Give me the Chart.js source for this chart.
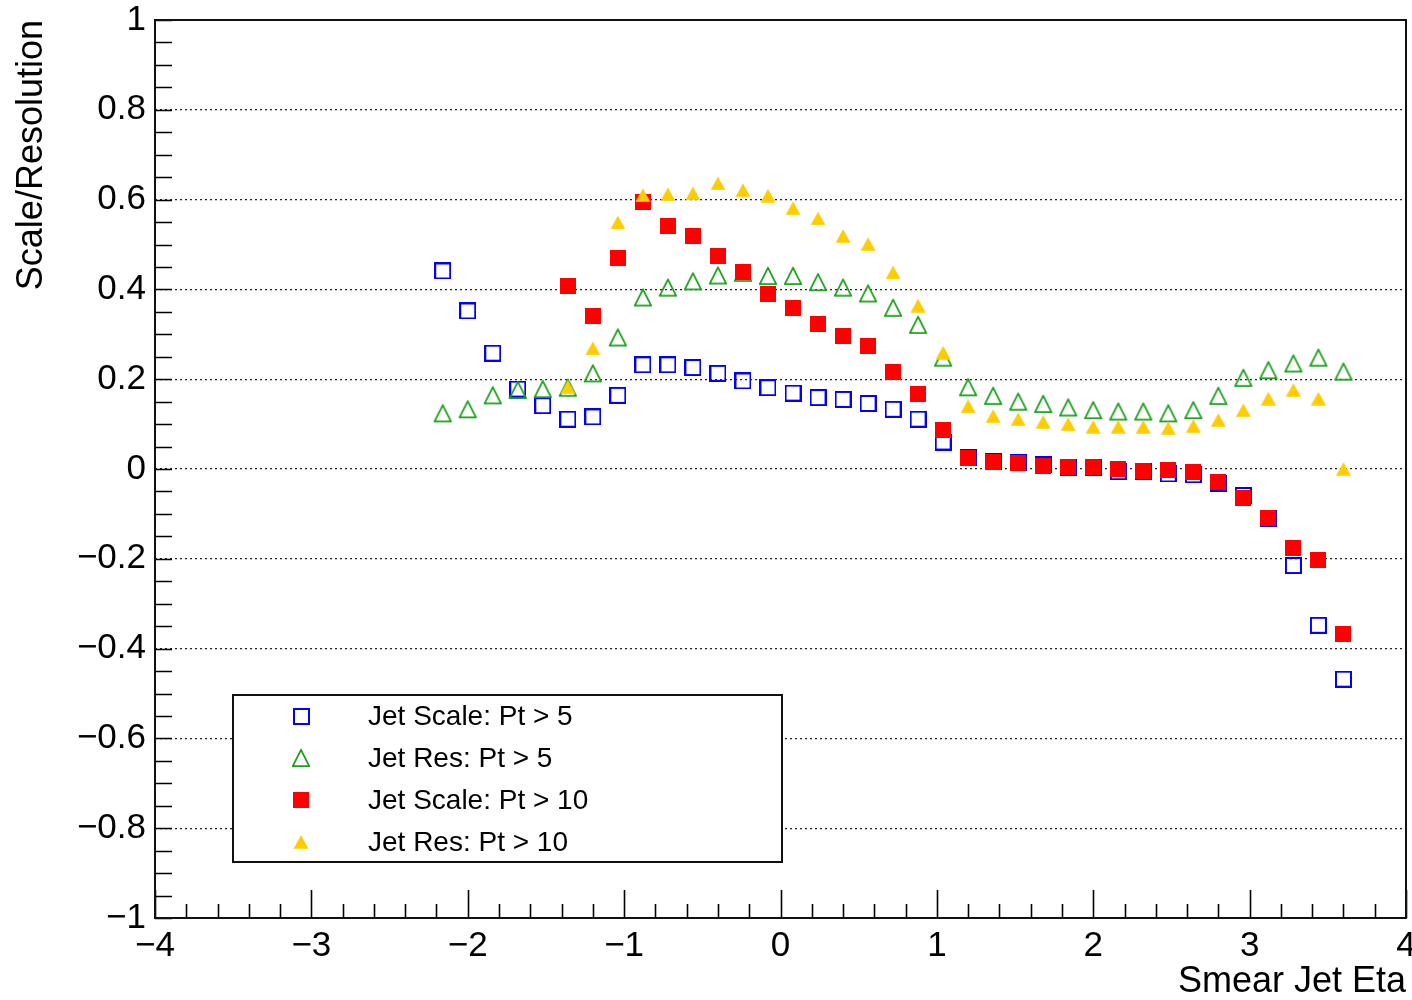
<!DOCTYPE html>
<html>
<head>
<meta charset="utf-8">
<script src="https://cdn.jsdelivr.net/npm/chart.js@4.4.1/dist/chart.umd.min.js"></script>
<style>
html,body{margin:0;padding:0;background:#ffffff;}
#wrap{width:1412px;height:1000px;position:relative;}
</style>
</head>
<body>
<div id="wrap"><canvas id="c" width="1412" height="1000"></canvas></div>
<script>
// ---------------- data ----------------
const etaBins = [-2.16,-2.00,-1.84,-1.68,-1.52,-1.36,-1.20,-1.04,-0.88,-0.72,-0.56,-0.40,-0.24,-0.08,0.08,0.24,0.40,0.56,0.72,0.88,1.04,1.20,1.36,1.52,1.68,1.84,2.00,2.16,2.32,2.48,2.64,2.80,2.96,3.12,3.28,3.44,3.60];

const jetScalePt5 = [0.441,0.352,0.258,0.178,0.141,0.111,0.116,0.164,0.232,0.232,0.226,0.213,0.196,0.181,0.169,0.159,0.155,0.146,0.133,0.111,0.060,0.025,0.016,0.015,0.009,0.004,0.004,-0.006,-0.006,-0.011,-0.013,-0.032,-0.059,-0.111,-0.215,-0.348,-0.468];

const jetResPt5 = [0.124,0.133,0.164,0.176,0.178,0.181,0.213,0.293,0.382,0.404,0.418,0.431,0.437,0.430,0.430,0.416,0.404,0.391,0.359,0.321,0.248,0.182,0.163,0.150,0.145,0.137,0.131,0.128,0.128,0.124,0.131,0.163,0.203,0.220,0.235,0.248,0.217];

const jetScalePt10 = [null,null,null,null,null,0.408,0.341,0.469,0.594,0.541,0.519,0.474,0.438,0.389,0.358,0.322,0.296,0.274,0.215,0.166,0.087,0.025,0.016,0.013,0.007,0.004,0.005,0.001,-0.004,-0.002,-0.007,-0.030,-0.064,-0.110,-0.177,-0.203,-0.367];

const jetResPt10 = [null,null,null,null,null,0.183,0.269,0.549,0.610,0.612,0.614,0.636,0.621,0.609,0.581,0.558,0.519,0.501,0.438,0.364,0.259,0.140,0.118,0.111,0.105,0.100,0.094,0.094,0.094,0.091,0.096,0.109,0.131,0.157,0.176,0.157,0.000];

const seriesLabels = ['Jet Scale: Pt > 5','Jet Res: Pt > 5','Jet Scale: Pt > 10','Jet Res: Pt > 10'];

const xTickValues = [-4,-3,-2,-1,0,1,2,3,4];
const xTickLabels = ['\u22124','\u22123','\u22122','\u22121','0','1','2','3','4'];
const yTickValues = [-1,-0.8,-0.6,-0.4,-0.2,0,0.2,0.4,0.6,0.8,1];
const yTickLabels = ['\u22121','\u22120.8','\u22120.6','\u22120.4','\u22120.2','0','0.2','0.4','0.6','0.8','1'];

const xAxisTitle = 'Smear Jet Eta';
const yAxisTitle = 'Scale/Resolution';

// ---------------- styles ----------------
const FONT = '"Liberation Sans", Arial, Helvetica, sans-serif';
const C_BLUE = '#0000ff', C_GREEN = '#1c9f1c', C_RED = '#ff0000', C_YELLOW = '#ffcc00';

function makeMarker(w, h, draw) {
  const cv = document.createElement('canvas');
  cv.width = w; cv.height = h;
  const g = cv.getContext('2d');
  draw(g, w, h);
  return cv;
}
const mkBlueSq = makeMarker(17, 17, (g) => {
  g.strokeStyle = C_BLUE; g.lineWidth = 2; g.strokeRect(1, 1, 15, 15);
});
const mkRedSq = makeMarker(16, 16, (g) => {
  g.fillStyle = C_RED; g.fillRect(0, 0, 16, 16);
});
const mkGreenTri = makeMarker(20, 20, (g) => {
  g.strokeStyle = C_GREEN; g.lineWidth = 1.8; g.lineJoin = 'round';
  g.beginPath(); g.moveTo(10, 1.8); g.lineTo(18.2, 18.2); g.lineTo(1.8, 18.2); g.closePath(); g.stroke();
});
const mkYellowTri = makeMarker(16, 14, (g) => {
  g.fillStyle = C_YELLOW;
  g.beginPath(); g.moveTo(8, 0.3); g.lineTo(15.5, 13.7); g.lineTo(0.5, 13.7); g.closePath(); g.fill();
});

function toPoints(ys) {
  const out = [];
  for (let i = 0; i < etaBins.length; i++) {
    if (ys[i] !== null && ys[i] !== undefined) out.push({x: etaBins[i], y: ys[i]});
  }
  return out;
}

// ---------------- plugins ----------------
const rootAxes = {
  id: 'rootAxes',
  beforeDatasetsDraw(chart) {
    const {ctx, chartArea: a, scales: {x, y}} = chart;
    ctx.save();
    ctx.strokeStyle = '#000';
    ctx.lineWidth = 1.6;
    ctx.beginPath();
    for (let k = -20; k <= 20; k++) {
      const py = Math.round(y.getPixelForValue(k * 0.05)) + 0.5;
      ctx.moveTo(a.left, py); ctx.lineTo(a.left + 17, py);
    }
    for (let k = -20; k <= 20; k++) {
      const px = Math.round(x.getPixelForValue(k * 0.2)) + 0.5;
      const len = (k % 5 === 0) ? 28 : 14;
      ctx.moveTo(px, a.bottom); ctx.lineTo(px, a.bottom - len);
    }
    ctx.stroke();
    ctx.restore();
  },
  afterDatasetsDraw(chart) {
    const {ctx, chartArea: a} = chart;
    ctx.save();
    ctx.strokeStyle = '#111';
    ctx.lineWidth = 2;
    ctx.strokeRect(a.left, a.top, a.right - a.left, a.bottom - a.top);

    const bx = 233, by = 695, bw = 549, bh = 167;
    ctx.fillStyle = '#fff';
    ctx.fillRect(bx, by, bw, bh);
    ctx.strokeStyle = '#111';
    ctx.lineWidth = 2;
    ctx.strokeRect(bx, by, bw, bh);
    const rows = [716, 758, 800, 842];
    const markers = [mkBlueSq, mkGreenTri, mkRedSq, mkYellowTri];
    ctx.font = '28px ' + FONT;
    ctx.fillStyle = '#000';
    ctx.textBaseline = 'middle';
    ctx.textAlign = 'left';
    chart.data.datasets.forEach((ds, i) => {
      const m = markers[i];
      ctx.drawImage(m, Math.round(301 - m.width / 2), Math.round(rows[i] - m.height / 2));
      ctx.fillText(ds.label, 368, rows[i] + 1);
    });
    ctx.restore();
  }
};

Chart.defaults.font.family = FONT;
Chart.defaults.color = '#000';

new Chart(document.getElementById('c'), {
  type: 'scatter',
  data: {
    datasets: [
      {label: seriesLabels[0], data: toPoints(jetScalePt5), pointStyle: mkBlueSq, pointRadius: 8, order: 4},
      {label: seriesLabels[1], data: toPoints(jetResPt5), pointStyle: mkGreenTri, pointRadius: 8, order: 3},
      {label: seriesLabels[2], data: toPoints(jetScalePt10), pointStyle: mkRedSq, pointRadius: 8, order: 2},
      {label: seriesLabels[3], data: toPoints(jetResPt10), pointStyle: mkYellowTri, pointRadius: 8, order: 1}
    ]
  },
  options: {
    responsive: false,
    animation: false,
    devicePixelRatio: 1,
    layout: {autoPadding: false, padding: {top: 20, right: 6, bottom: 0, left: 0}},
    plugins: {legend: {display: false}, tooltip: {enabled: false}},
    elements: {point: {hoverRadius: 8}},
    scales: {
      x: {
        type: 'linear', min: -4, max: 4,
        afterBuildTicks: (s) => { s.ticks = xTickValues.map(v => ({value: v})); },
        afterFit: (s) => { s.height = 82; s.paddingLeft = 0; s.paddingRight = 0; },
        ticks: {
          autoSkip: false, maxRotation: 0, padding: 7,
          font: {size: 35},
          callback: (v) => { const i = xTickValues.indexOf(v); return i >= 0 ? xTickLabels[i] : ''; }
        },
        grid: {display: false, drawTicks: false},
        border: {display: false},
        title: {display: true, text: xAxisTitle, align: 'end', font: {size: 36}, padding: {top: 0, bottom: -4}}
      },
      y: {
        type: 'linear', min: -1, max: 1,
        afterBuildTicks: (s) => { s.ticks = yTickValues.map(v => ({value: v})); },
        afterFit: (s) => { s.width = 155; s.paddingTop = 0; s.paddingBottom = 0; },
        ticks: {
          autoSkip: false, padding: 9,
          font: {size: 35},
          callback: (v) => { const i = yTickValues.findIndex(t => Math.abs(t - v) < 1e-9); return i >= 0 ? yTickLabels[i] : ''; }
        },
        grid: {
          drawTicks: false,
          lineWidth: 1.3,
          color: (c) => (c.tick && Math.abs(Math.abs(c.tick.value) - 1) < 1e-9) ? 'rgba(0,0,0,0)' : '#222'
        },
        border: {display: false, dash: [2, 3]},
        title: {display: true, text: yAxisTitle, align: 'end', font: {size: 36}, padding: {top: 10, bottom: 0}}
      }
    }
  },
  plugins: [rootAxes]
});
</script>
</body>
</html>
